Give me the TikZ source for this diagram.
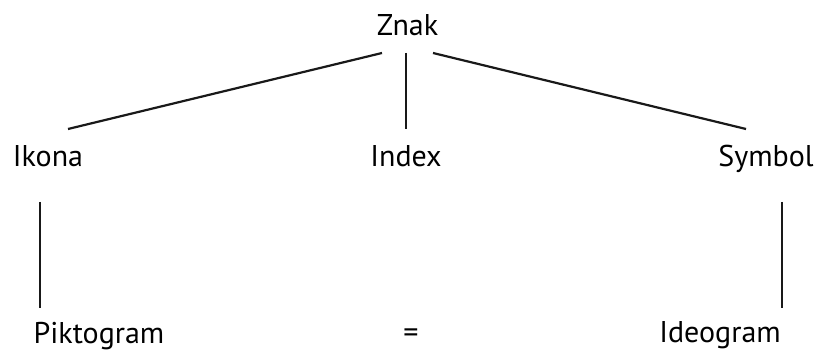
\documentclass[tikz,border=0pt]{standalone}
\usepackage{fontspec}
\setmainfont{PT Sans}
\usetikzlibrary{calc}
\begin{document}
\begin{tikzpicture}[x=1pt,y=-1pt,
  lbl/.style={font=\fontsize{30}{36}\selectfont, inner sep=0pt, anchor=base},
  link/.style={line width=2.2pt, black!90}]
\useasboundingbox (0,0) rectangle (819,352);
\node[lbl] (znak) at (407.5,36) {Znak};
\node[lbl] (ikona) at (48,167) {Ikona};
\node[lbl] (index) at (406,167) {Index};
\node[lbl] (symbol) at (766,167) {Symbol};
\node[lbl] (pikto) at (99,343.5) {Piktogram};
\node[lbl, anchor=center] (eq) at (411,335.5) {=};
\node[lbl] (ideo) at (720,343) {Ideogram};
\draw[link] ($(znak.base)+(-25.5,17)$) -- ($(ikona.base)+(20,-38)$);
\draw[link] ($(znak.base)+(-1.8,17)$) -- ($(index.base)+(-0.3,-38)$);
\draw[link] ($(znak.base)+(25.5,17)$) -- ($(symbol.base)+(-20,-38)$);
\draw[link] ($(ikona.base)+(-8,35)$) -- ($(pikto.base)+(-59,-35.5)$);
\draw[link] ($(symbol.base)+(16,35)$) -- ($(ideo.base)+(62,-35)$);
\end{tikzpicture}
\end{document}
